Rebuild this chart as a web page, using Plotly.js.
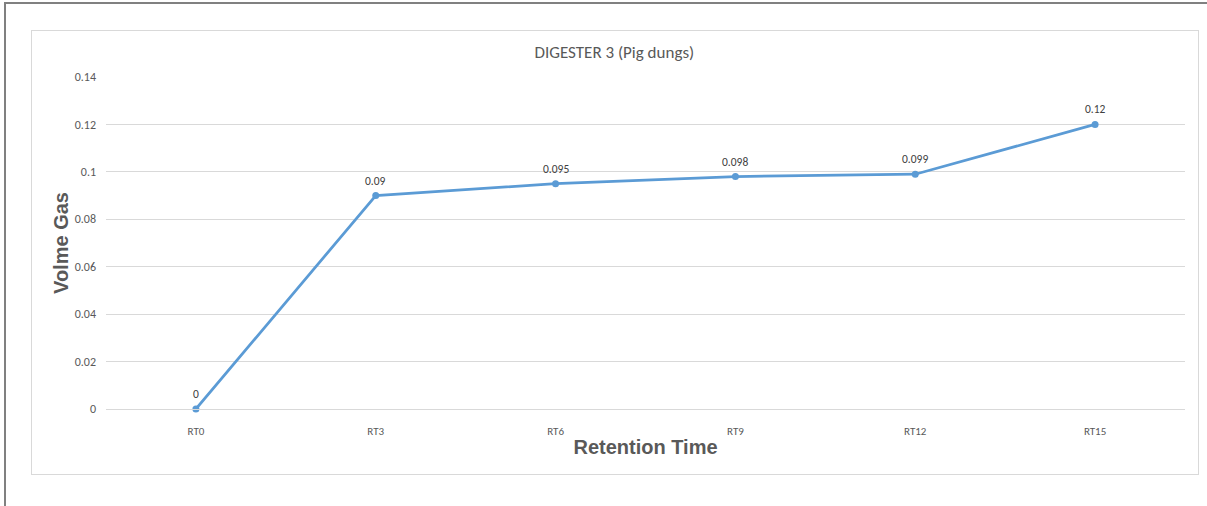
<!DOCTYPE html>
<html>
<head>
<meta charset="utf-8">
<script src="https://cdn.plot.ly/plotly-3.0.1.min.js"></script>
<style>
html,body{margin:0;padding:0;background:#fff;}
#wrap{position:relative;width:1207px;height:506px;overflow:hidden;}
#chart{position:absolute;left:0;top:0;width:1207px;height:506px;}
#outer{position:absolute;left:4px;top:2px;width:1210px;height:520px;border-top:2px solid #808080;border-left:2px solid #808080;pointer-events:none;}
#inner{position:absolute;left:31px;top:30px;width:1166px;height:443px;border:1px solid #d9d9d9;pointer-events:none;}
</style>
</head>
<body>
<div id="wrap">
<div id="chart"></div>
<div id="inner"></div>
<div id="outer"></div>
</div>
<script>
var categories = ["RT0", "RT3", "RT6", "RT9", "RT12", "RT15"];
var volumeGas = [0, 0.09, 0.095, 0.098, 0.099, 0.12];
var yTickVals = [0, 0.02, 0.04, 0.06, 0.08, 0.1, 0.12, 0.14];
var yTickText = ["0", "0.02", "0.04", "0.06", "0.08", "0.1", "0.12", "0.14"];

var trace = {
  x: categories,
  y: volumeGas,
  type: "scatter",
  mode: "lines+markers",
  line: {color: "#5B9BD5", width: 2.75},
  marker: {color: "#5B9BD5", size: 7},
  cliponaxis: false,
  hoverinfo: "x+y"
};

var labelAnnotations = categories.map(function (c, i) {
  return {
    x: c, y: volumeGas[i], xref: "x", yref: "y",
    text: String(volumeGas[i]), showarrow: false,
    yshift: 15, xanchor: "center", yanchor: "middle",
    font: {family: "Carlito, 'Liberation Sans', sans-serif", size: 11.5, color: "#404040"}
  };
});

var layout = {
  width: 1207, height: 506,
  margin: {l: 106, r: 22, t: 77, b: 97},
  paper_bgcolor: "rgba(0,0,0,0)",
  plot_bgcolor: "rgba(0,0,0,0)",
  showlegend: false,
  annotations: labelAnnotations,
  title: {
    text: "DIGESTER 3 (Pig dungs)",
    xref: "container", x: 0.509, xanchor: "center",
    yref: "container", y: 0.897, yanchor: "middle",
    font: {family: "Carlito, 'Liberation Sans', sans-serif", size: 17, color: "#595959"}
  },
  xaxis: {
    type: "category",
    range: [-0.5, 5.5],
    showgrid: false,
    showline: true, linecolor: "#d9d9d9", linewidth: 1,
    ticks: "", ticklabelstandoff: 12,
    tickfont: {family: "Carlito, 'Liberation Sans', sans-serif", size: 11, color: "#595959"},
    title: {text: "Retention Time", standoff: 2,
      font: {family: "'Liberation Sans', Arial, sans-serif", size: 20, color: "#595959", weight: "bold"}},
    fixedrange: true
  },
  yaxis: {
    range: [0, 0.14],
    tickvals: yTickVals, ticktext: yTickText,
    showgrid: true, gridcolor: "#d9d9d9", gridwidth: 1,
    zeroline: false, showline: false,
    ticks: "", ticklabelstandoff: 9,
    tickfont: {family: "Carlito, 'Liberation Sans', sans-serif", size: 12, color: "#595959"},
    title: {text: "Volme Gas", standoff: 0,
      font: {family: "'Liberation Sans', Arial, sans-serif", size: 20, color: "#595959", weight: "bold"}},
    fixedrange: true
  }
};

Plotly.newPlot("chart", [trace], layout, {displayModeBar: false, staticPlot: true});
</script>
</body>
</html>
